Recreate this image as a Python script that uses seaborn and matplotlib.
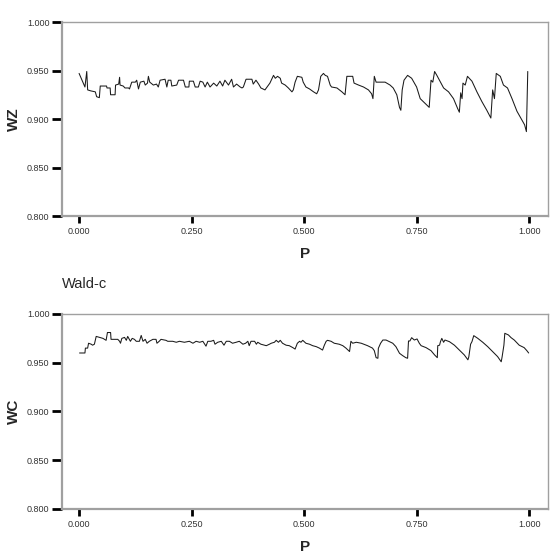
import pandas as pd
import seaborn as sns
import matplotlib
matplotlib.use("Agg")
import matplotlib.pyplot as plt
from matplotlib.ticker import FormatStrFormatter

# Wald-z coverage
wz_p = [0.000, 0.013, 0.017, 0.019, 0.026, 0.036, 0.039, 0.045, 0.047, 0.061,
        0.062, 0.069, 0.070, 0.080, 0.081, 0.088, 0.090, 0.091, 0.098, 0.102,
        0.110, 0.112, 0.117, 0.125, 0.128, 0.132, 0.136, 0.144, 0.147, 0.152,
        0.154, 0.157, 0.165, 0.172, 0.176, 0.180, 0.191, 0.195, 0.198, 0.204,
        0.206, 0.217, 0.221, 0.232, 0.236, 0.244, 0.245, 0.254, 0.258, 0.265,
        0.269, 0.275, 0.280, 0.285, 0.291, 0.299, 0.306, 0.313, 0.319, 0.324,
        0.332,
        0.339, 0.343, 0.350, 0.358, 0.362, 0.365, 0.371, 0.384, 0.387, 0.393,
        0.399, 0.404, 0.413, 0.421, 0.424, 0.432, 0.436, 0.441, 0.447, 0.450,
        0.458, 0.465, 0.473, 0.476, 0.480, 0.485, 0.495, 0.498, 0.504, 0.512,
        0.521, 0.528, 0.532, 0.537, 0.543, 0.547, 0.552, 0.558, 0.561, 0.573,
        0.584, 0.591, 0.595, 0.608, 0.611, 0.621, 0.632, 0.643, 0.650, 0.653,
        0.656,
        0.660, 0.680, 0.691, 0.698, 0.706, 0.712, 0.715, 0.718, 0.722, 0.730,
        0.739, 0.750, 0.758, 0.769, 0.778, 0.782, 0.786, 0.790, 0.795, 0.802,
        0.810, 0.821, 0.832, 0.841, 0.845, 0.848, 0.851, 0.853, 0.858, 0.863,
        0.873, 0.884, 0.895, 0.906, 0.915, 0.919, 0.923, 0.927, 0.936, 0.943,
        0.952, 0.962, 0.973, 0.984, 0.990, 0.994, 0.997]
wz = [0.947, 0.933, 0.949, 0.930, 0.929, 0.928, 0.923, 0.922, 0.934, 0.934,
      0.932, 0.932, 0.925, 0.925, 0.935, 0.936, 0.943, 0.935, 0.934, 0.932,
      0.932, 0.931, 0.938, 0.938, 0.940, 0.931, 0.938, 0.939, 0.935, 0.937,
      0.944, 0.938, 0.935, 0.936, 0.933, 0.940, 0.941, 0.933, 0.940, 0.940,
      0.934, 0.935, 0.940, 0.940, 0.933, 0.933, 0.939, 0.939, 0.933, 0.933,
      0.939, 0.938, 0.933, 0.938, 0.933, 0.937, 0.934, 0.939, 0.934, 0.940,
      0.935,
      0.941, 0.933, 0.936, 0.933, 0.932, 0.933, 0.941, 0.941, 0.936, 0.940,
      0.936, 0.932, 0.930, 0.935, 0.937, 0.945, 0.942, 0.944, 0.942, 0.937,
      0.935, 0.932, 0.928, 0.930, 0.938, 0.944, 0.943, 0.938, 0.933, 0.931,
      0.928, 0.926, 0.930, 0.944, 0.947, 0.945, 0.944, 0.935, 0.933, 0.932,
      0.928, 0.925, 0.944, 0.944, 0.937, 0.935, 0.933, 0.930, 0.926, 0.921,
      0.944,
      0.938, 0.938, 0.935, 0.932, 0.925, 0.912, 0.909, 0.930, 0.940, 0.945,
      0.942, 0.933, 0.921, 0.916, 0.912, 0.940, 0.938, 0.949, 0.945, 0.939,
      0.932, 0.928, 0.921, 0.911, 0.907, 0.927, 0.921, 0.937, 0.935, 0.944,
      0.939, 0.928, 0.918, 0.909, 0.901, 0.930, 0.921, 0.947, 0.944, 0.935,
      0.932, 0.921, 0.908, 0.899, 0.894, 0.887, 0.949]

# Wald-c coverage
wc_p = [0.001, 0.013, 0.014, 0.019, 0.021, 0.027, 0.030, 0.034, 0.038, 0.053,
        0.060, 0.063, 0.070, 0.071, 0.086, 0.090, 0.092, 0.095, 0.101, 0.105,
        0.108, 0.114, 0.118, 0.123, 0.127, 0.134, 0.138, 0.142, 0.147, 0.151,
        0.156, 0.164, 0.171, 0.173, 0.178, 0.182, 0.193, 0.197, 0.208, 0.216,
        0.223, 0.234, 0.245, 0.253, 0.260, 0.268, 0.275, 0.282, 0.286, 0.293,
        0.299, 0.302, 0.308, 0.316, 0.322, 0.327, 0.334,
        0.341, 0.349, 0.356, 0.364, 0.370, 0.375, 0.378, 0.382, 0.390, 0.394,
        0.397, 0.404, 0.416, 0.423, 0.427, 0.434, 0.438, 0.443, 0.447, 0.452,
        0.460, 0.467, 0.475, 0.480, 0.485, 0.490, 0.493, 0.497, 0.504, 0.512,
        0.519, 0.527, 0.534, 0.541, 0.545, 0.549, 0.552, 0.560, 0.567, 0.578,
        0.586, 0.593, 0.601, 0.604, 0.608, 0.616, 0.627, 0.641, 0.652,
        0.656, 0.660, 0.664, 0.665, 0.670, 0.675, 0.682, 0.690, 0.697, 0.704,
        0.712, 0.719, 0.726, 0.730, 0.732, 0.735, 0.739, 0.745, 0.751, 0.756,
        0.760, 0.771, 0.782, 0.790, 0.796, 0.797, 0.801, 0.803, 0.806, 0.810,
        0.813, 0.823, 0.834, 0.845, 0.856, 0.864, 0.866, 0.870, 0.873, 0.877,
        0.886, 0.897, 0.908, 0.919, 0.930, 0.938, 0.940, 0.944, 0.946, 0.954,
        0.960, 0.967, 0.978, 0.989, 0.995, 0.999]
wc = [0.960, 0.960, 0.965, 0.965, 0.970, 0.969, 0.968, 0.969, 0.977, 0.975,
      0.973, 0.981, 0.981, 0.974, 0.974, 0.972, 0.970, 0.975, 0.976, 0.973,
      0.977, 0.972, 0.975, 0.974, 0.972, 0.972, 0.978, 0.972, 0.974, 0.970,
      0.972, 0.974, 0.974, 0.970, 0.972, 0.974, 0.973, 0.972, 0.972, 0.971,
      0.972, 0.971, 0.972, 0.970, 0.972, 0.971, 0.972, 0.967, 0.972, 0.972,
      0.973, 0.969, 0.971, 0.972, 0.968, 0.972, 0.972,
      0.970, 0.971, 0.972, 0.969, 0.970, 0.972, 0.9675, 0.972, 0.972, 0.969,
      0.971, 0.969, 0.9675, 0.969, 0.970, 0.971, 0.973, 0.971, 0.973, 0.970,
      0.968, 0.9675, 0.9655, 0.964, 0.970, 0.972, 0.971, 0.973, 0.970, 0.969,
      0.9675, 0.9665, 0.965, 0.963, 0.968, 0.972, 0.973, 0.972, 0.970, 0.969,
      0.9675, 0.965, 0.9615, 0.972, 0.970, 0.971, 0.970, 0.9675, 0.965,
      0.9624, 0.9552, 0.9546, 0.9648, 0.970, 0.9733, 0.9733, 0.9716, 0.970, 0.9665,
      0.9597, 0.9573, 0.9552, 0.9546, 0.9723, 0.9723, 0.9757, 0.9733, 0.9744, 0.970,
      0.9675, 0.9655, 0.9624, 0.958, 0.9552, 0.9675, 0.968, 0.9716, 0.975, 0.971,
      0.9733, 0.9716, 0.968, 0.963, 0.958, 0.953, 0.956, 0.969, 0.9716, 0.9778,
      0.975, 0.971, 0.9665, 0.9614, 0.9563, 0.951, 0.956, 0.968, 0.9802, 0.9785,
      0.9757, 0.9733, 0.968, 0.9655, 0.9624, 0.960]

x_ticks = [0.0, 0.25, 0.5, 0.75, 1.0]
y_ticks = [0.80, 0.85, 0.90, 0.95, 1.00]

wz_df = pd.DataFrame({"P": wz_p, "WZ": wz})
wc_df = pd.DataFrame({"P": wc_p, "WC": wc})

sns.set_theme(style="white")
plt.rcParams["font.family"] = ["Liberation Sans", "DejaVu Sans"]

fig = plt.figure(figsize=(5.55, 5.53), dpi=100)
ax_top = fig.add_axes([0.1117, 0.6094, 0.8757, 0.3508])
ax_bot = fig.add_axes([0.1117, 0.0796, 0.8757, 0.3526])

for ax, df, col in [(ax_top, wz_df, "WZ"), (ax_bot, wc_df, "WC")]:
    sns.lineplot(data=df, x="P", y=col, ax=ax, color="#1a1a1a", linewidth=0.75,
                 estimator=None, sort=False)
    ax.set_xlim(-0.038, 1.042)
    ax.set_ylim(0.8, 1.0)
    ax.set_xticks(x_ticks)
    ax.set_yticks(y_ticks)
    ax.xaxis.set_major_formatter(FormatStrFormatter("%.3f"))
    ax.yaxis.set_major_formatter(FormatStrFormatter("%.3f"))
    ax.tick_params(axis="y", left=True, length=7, width=2, color="black",
                   labelsize=6.5, pad=2, labelcolor="#333333")
    ax.tick_params(axis="x", bottom=True, length=5, width=2, color="black",
                   labelsize=6.5, pad=3, labelcolor="#333333")
    for s in ax.spines.values():
        s.set_color("#a0a0a0")
        s.set_linewidth(1.0)
    ax.spines["left"].set_linewidth(1.6)
    ax.spines["bottom"].set_linewidth(1.6)
    ax.set_xlabel("P", fontsize=11, fontweight="bold", labelpad=8)
    ax.set_ylabel(col, fontsize=11, fontweight="bold", labelpad=4)

ax_bot.set_title("Wald-c", loc="left", fontsize=10.5, pad=19)

plt.savefig("out.png", dpi=100)
